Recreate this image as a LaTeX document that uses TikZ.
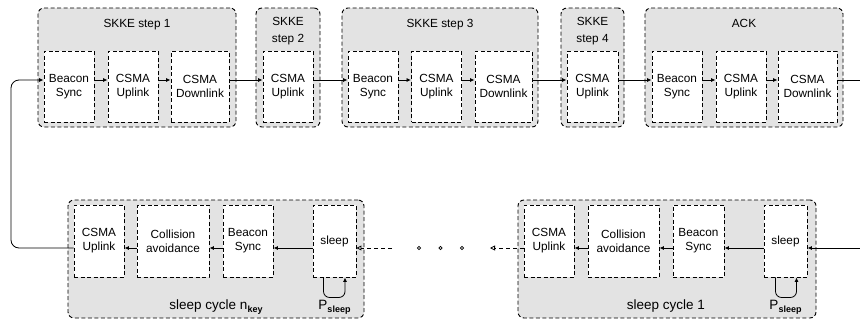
\documentclass[tikz,border=0pt]{standalone}
\usepackage{fontspec}
\setmainfont{Liberation Sans}
\usetikzlibrary{arrows.meta}
\newcommand{\sbx}[1]{\raisebox{-3.5pt}{\fontsize{9}{9}\selectfont\bfseries #1}}
\begin{document}
\begin{tikzpicture}[x=1pt,y=-1pt,
  grp/.style={draw, dash pattern=on 4pt off 2.5pt, rounded corners=6pt, fill=black!11, line width=0.95pt, inner sep=0pt, minimum height=119pt},
  grpb/.style={grp, minimum height=118pt},
  blk/.style={draw, dash pattern=on 4pt off 2.5pt, fill=white, line width=0.95pt, inner sep=0pt, minimum height=71pt, align=center, font=\fontsize{11.8}{14}\selectfont},
  blkb/.style={blk, minimum height=72pt},
  ttl/.style={align=center, font=\fontsize{11.8}{17}\selectfont, inner sep=0pt},
  lbl/.style={anchor=base, inner sep=0pt, font=\fontsize{13.5}{16}\selectfont},
  arr/.style={-{Latex[length=4.5pt,width=4pt]}, line width=0.8pt},
  darr/.style={-{Triangle[open,length=5pt,width=5pt]}, line width=0.8pt, dash pattern=on 4pt off 3pt},
  dotc/.style={circle, draw, fill=white, minimum size=3.2pt, inner sep=0pt, line width=0.7pt}
]
\useasboundingbox (0,0) rectangle (860,322);

% top groups
\node[grp, minimum width=198pt] (g1) at (137,67.5) {};
\node[grp, minimum width=64pt]  (g2) at (288,67.5) {};
\node[grp, minimum width=196pt] (g3) at (440,67.5) {};
\node[grp, minimum width=63pt]  (g4) at (592.5,67.5) {};
\node[grp, minimum width=198pt] (g5) at (744,67.5) {};

\node[ttl, anchor=base] (t1) at (137,27) {SKKE step 1};
\node[ttl] (t2) at (288,31.5) {SKKE\\step 2};
\node[ttl, anchor=base] (t3) at (440,27) {SKKE step 3};
\node[ttl] (t4) at (592.5,31.5) {SKKE\\step 4};
\node[ttl, anchor=base] (t5) at (744,27) {ACK};

% top blocks
\node[blk, minimum width=50pt] (s1b) at (69,86.5) {Beacon\\Sync};
\node[blk, minimum width=50pt] (s1u) at (133,86.5) {CSMA\\Uplink};
\node[blk, minimum width=58pt] (s1d) at (200,86.5) {CSMA\\Downlink};
\node[blk, minimum width=50pt] (s2u) at (288,86.5) {CSMA\\Uplink};
\node[blk, minimum width=50pt] (s3b) at (373,86.5) {Beacon\\Sync};
\node[blk, minimum width=50pt] (s3u) at (436.5,86.5) {CSMA\\Uplink};
\node[blk, minimum width=57pt] (s3d) at (503.5,86.5) {CSMA\\Downlink};
\node[blk, minimum width=51pt] (s4u) at (592.5,86.5) {CSMA\\Uplink};
\node[blk, minimum width=50pt] (ab) at (677,86.5) {Beacon\\Sync};
\node[blk, minimum width=50pt] (au) at (741,86.5) {CSMA\\Uplink};
\node[blk, minimum width=59pt] (ad) at (807.5,86.5) {CSMA\\Downlink};

\foreach \a/\b in {s1b/s1u, s1u/s1d, s1d/s2u, s2u/s3b, s3b/s3u, s3u/s3d, s3d/s4u, s4u/ab, ab/au, au/ad}
  \draw[arr] ([yshift=6.5pt]\a.east) -- ([yshift=6.5pt]\b.west);
\coordinate (rt) at (860,80);
\draw[line width=0.8pt] ([yshift=6.5pt]ad.east) -- (rt);

% bottom groups
\node[grpb, minimum width=296pt] (gn) at (216,259) {};
\node[grpb, minimum width=298pt] (go) at (667,259) {};

\node[blkb, minimum width=50pt] (nu) at (99,241) {CSMA\\Uplink};
\node[blkb, minimum width=72pt] (nc) at (173,241) {Collision\\avoidance};
\node[blkb, minimum width=50pt] (nb) at (248,241) {Beacon\\Sync};
\node[blkb, minimum width=43pt] (ns) at (334.5,241) {sleep};

\node[blkb, minimum width=50pt] (ou) at (549,241) {CSMA\\Uplink};
\node[blkb, minimum width=71pt] (oc) at (623.5,241) {Collision\\avoidance};
\node[blkb, minimum width=51pt] (ob) at (698.5,241) {Beacon\\Sync};
\node[blkb, minimum width=43pt] (os) at (785.5,241) {sleep};

\foreach \a/\b in {ns/nb, nb/nc, nc/nu, os/ob, ob/oc, oc/ou}
  \draw[arr] ([yshift=-7pt]\a.west) -- ([yshift=-7pt]\b.east);

\coordinate (rb) at (860,248);
\draw[arr] (rb) -- ([yshift=-7pt]os.east);

% self loops
\draw[arr, rounded corners=6pt] ([xshift=-11pt]ns.south) -- ++(0,20) -| ([xshift=10.5pt]ns.south);
\draw[arr, rounded corners=6pt] ([xshift=-10pt]os.south) -- ++(0,20) -| ([xshift=11pt]os.south);

\node[lbl] (pn) at (334.5,309) {P\sbx{sleep}};
\node[lbl] (po) at (785.5,309) {P\sbx{sleep}};
\node[lbl] (ln) at (216,309) {sleep cycle n\sbx{key}};
\node[lbl] (lo) at (666,309) {sleep cycle 1};

% dashed continuation
\coordinate (c1) at (392,248);
\coordinate (c2) at (490,248);
\draw[darr] (c1) -- ([yshift=-7pt]ns.east);
\draw[darr] ([yshift=-7pt]ou.west) -- (c2);
\node[dotc] (d1) at (419,248) {};
\node[dotc] (d2) at (440.5,248) {};
\node[dotc] (d3) at (462,248) {};

% return loop
\coordinate (lc1) at (11,248);
\coordinate (lc2) at (11,80);
\draw[arr, rounded corners=8pt] ([yshift=-7pt]nu.west) -- (lc1) -- (lc2) -- ([yshift=6.5pt]s1b.west);
\end{tikzpicture}
\end{document}
